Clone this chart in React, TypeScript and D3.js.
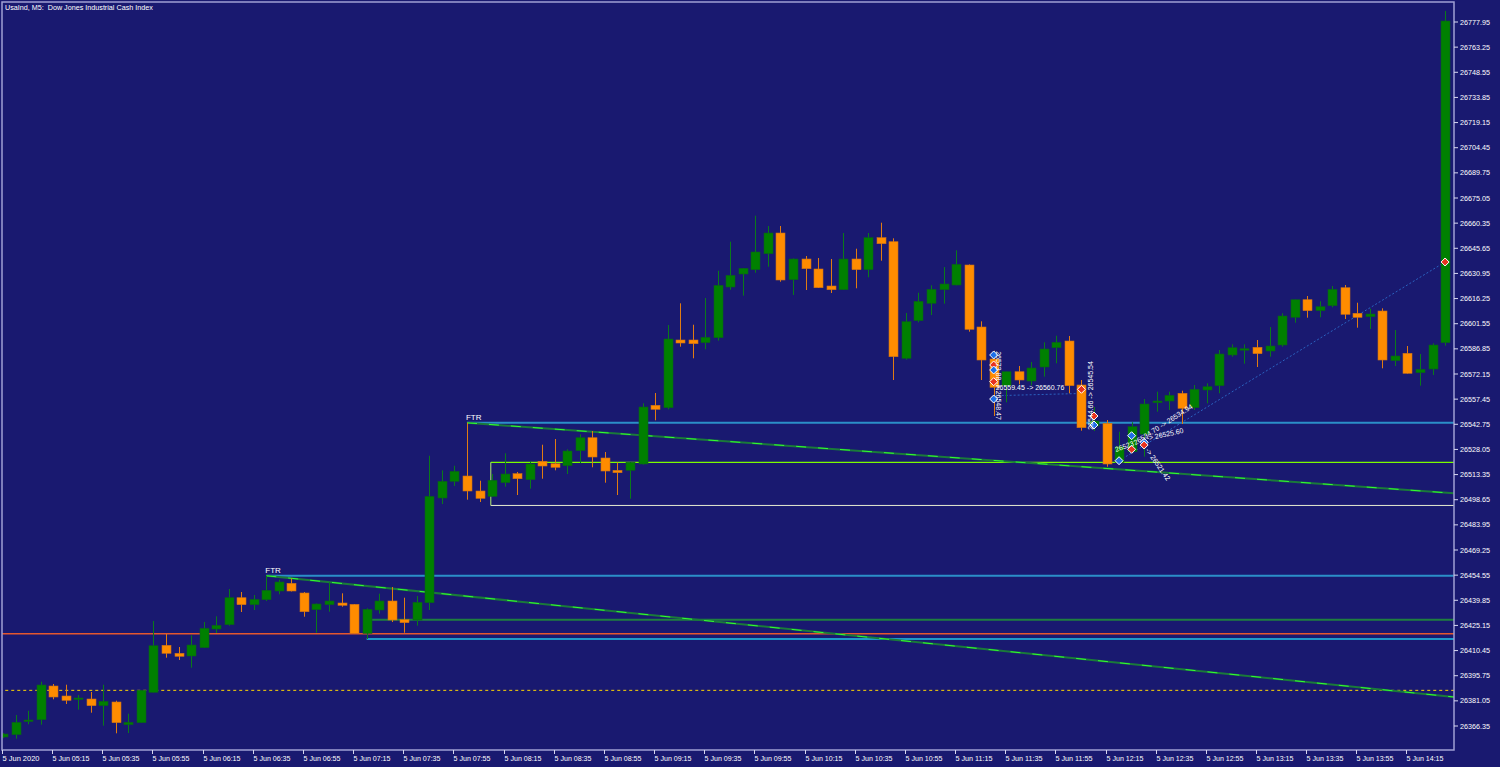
import * as d3 from 'd3';

// M5 bars, 5 Jun 2020 04:55 .. 14:30
const opens = [
  26359.92, 26361.26, 26368.98, 26370.03, 26389.73, 26383.89, 26382.13, 26382.13, 26378.22, 26380.38,
  26367.11, 26368.28, 26386.05, 26413.53, 26408.85, 26407.27, 26412.13, 26423.06, 26425.57, 26441.36,
  26437.27, 26440.19, 26445.28, 26449.78, 26444.11, 26434.34, 26437.27, 26438.26, 26437.5, 26420.55,
  26434.17, 26439.43, 26428.5, 26428.32, 26438.43, 26499.65, 26509.41, 26512.51, 26503.74, 26500.64,
  26508.6, 26513.86, 26510.35, 26521.11, 26519.7, 26518.53, 26527.3, 26534.9, 26523.04, 26515.84,
  26515.84, 26519.53, 26553.85, 26552.44, 26592.03, 26592.03, 26590.45, 26593.37, 26623.01, 26630.61,
  26633.13, 26642.48, 26654.58, 26627.28, 26639.38, 26633.54, 26623.6, 26621.43, 26639.38, 26633.13,
  26651.84, 26649.5, 26581.33, 26603.31, 26613.48, 26621.43, 26624.18, 26635.88, 26599.63, 26580.92,
  26565.31, 26573.49, 26568.05, 26576.24, 26587.52, 26591.44, 26565.72, 26541.74, 26543.32, 26520.52,
  26526.72, 26537.0, 26555.37, 26556.36, 26560.86, 26552.44, 26562.79, 26565.31, 26583.26, 26586.18,
  26587.76, 26585.59, 26589.1, 26605.3, 26615.59, 26609.16, 26612.08, 26622.6, 26607.64, 26605.65,
  26608.98, 26579.92, 26584.25, 26572.91, 26575.07, 26590.45,
];
const highs = [
  26362.25, 26372.78, 26375.29, 26392.25, 26390.9, 26390.49, 26384.47, 26386.23, 26390.49, 26381.14,
  26373.54, 26387.39, 26427.74, 26420.14, 26412.53, 26419.38, 26427.15, 26430.49, 26446.45, 26444.69,
  26442.94, 26454.22, 26451.88, 26452.7, 26444.69, 26437.97, 26450.36, 26443.93, 26437.68, 26435.16,
  26443.7, 26447.61, 26441.36, 26442.35, 26524.38, 26515.84, 26518.53, 26543.67, 26509.76, 26513.68,
  26525.78, 26514.85, 26521.11, 26530.81, 26534.14, 26528.12, 26536.89, 26538.82, 26526.54, 26520.52,
  26520.7, 26555.02, 26561.04, 26600.8, 26613.48, 26600.97, 26616.58, 26632.54, 26649.5, 26634.12,
  26664.7, 26658.68, 26658.68, 26639.7, 26641.14, 26639.97, 26639.38, 26654.58, 26645.4, 26654.58,
  26660.61, 26651.49, 26607.81, 26619.68, 26624.01, 26634.71, 26644.47, 26636.2, 26602.96, 26585.77,
  26573.6, 26576.82, 26579.16, 26590.68, 26594.54, 26594.36, 26568.64, 26552.85, 26545.25, 26538.41,
  26543.91, 26557.53, 26561.8, 26561.8, 26562.38, 26565.72, 26566.71, 26586.18, 26589.51, 26589.51,
  26592.03, 26599.63, 26607.64, 26615.7, 26617.75, 26614.65, 26623.6, 26624.18, 26613.83, 26610.32,
  26610.56, 26597.87, 26588.52, 26583.84, 26590.09, 26784.38,
];
const lows = [
  26359.33, 26358.92, 26367.34, 26367.11, 26381.96, 26379.21, 26375.88, 26374.13, 26366.52, 26362.08,
  26362.25, 26368.2, 26385.93, 26406.28, 26404.93, 26400.43, 26411.95, 26420.72, 26424.99, 26433.0,
  26434.17, 26439.43, 26443.35, 26445.0, 26430.25, 26420.9, 26433.17, 26436.1, 26420.14, 26417.21,
  26432.0, 26427.15, 26420.9, 26424.99, 26434.17, 26496.14, 26506.67, 26498.66, 26497.31, 26500.23,
  26506.26, 26501.4, 26505.09, 26510.93, 26515.84, 26513.68, 26519.94, 26517.6, 26508.6, 26501.4,
  26499.24, 26519.2, 26545.08, 26551.51, 26588.11, 26581.33, 26586.59, 26591.62, 26621.43, 26617.93,
  26631.37, 26634.88, 26626.11, 26618.34, 26621.26, 26622.43, 26619.5, 26621.26, 26622.25, 26628.68,
  26638.39, 26568.64, 26580.51, 26602.37, 26606.64, 26613.25, 26624.0, 26596.88, 26568.64, 26547.59,
  26555.6, 26566.13, 26565.54, 26570.57, 26578.4, 26560.86, 26539.0, 26538.82, 26517.95, 26520.4,
  26525.78, 26523.8, 26550.1, 26551.1, 26542.91, 26551.1, 26555.02, 26560.86, 26582.27, 26578.17,
  26576.24, 26582.27, 26588.11, 26602.14, 26605.06, 26605.3, 26611.15, 26604.3, 26599.22, 26598.46,
  26575.48, 26576.82, 26572.4, 26565.31, 26571.56, 26588.69,
];
const closes = [
  26361.67, 26368.51, 26369.85, 26390.32, 26383.3, 26381.37, 26382.72, 26378.22, 26380.79, 26368.28,
  26368.51, 26387.22, 26413.29, 26408.85, 26407.1, 26413.7, 26423.47, 26425.22, 26441.36, 26437.27,
  26440.42, 26445.69, 26450.54, 26445.28, 26433.17, 26437.68, 26439.43, 26436.92, 26420.55, 26434.58,
  26439.43, 26428.32, 26426.75, 26438.67, 26500.64, 26509.41, 26515.26, 26503.74, 26499.47, 26510.0,
  26513.68, 26510.93, 26519.53, 26518.36, 26517.6, 26527.13, 26534.9, 26523.62, 26515.43, 26514.44,
  26520.52, 26552.85, 26551.51, 26592.61, 26590.27, 26589.86, 26593.6, 26624.01, 26629.85, 26633.95,
  26643.48, 26654.58, 26627.11, 26639.38, 26633.71, 26622.6, 26621.43, 26639.38, 26633.13, 26651.84,
  26648.33, 26582.26, 26602.73, 26614.65, 26621.67, 26624.77, 26636.28, 26598.28, 26580.33, 26564.37,
  26573.49, 26568.64, 26575.66, 26586.76, 26590.68, 26565.31, 26540.75, 26544.67, 26519.53, 26529.64,
  26541.34, 26554.61, 26556.36, 26559.69, 26552.09, 26563.2, 26564.72, 26583.84, 26587.52, 26586.94,
  26584.02, 26588.52, 26606.06, 26615.59, 26609.16, 26611.5, 26621.67, 26607.05, 26605.3, 26607.23,
  26580.33, 26582.67, 26572.56, 26574.89, 26589.1, 26778.53,
];

const priceTicks = [
  26777.95, 26763.25, 26748.55, 26733.85, 26719.15, 26704.45, 26689.75, 26675.05, 26660.35, 26645.65,
  26630.95, 26616.25, 26601.55, 26586.85, 26572.15, 26557.45, 26542.75, 26528.05, 26513.35, 26498.65,
  26483.95, 26469.25, 26454.55, 26439.85, 26425.15, 26410.45, 26395.75, 26381.05, 26366.35,
];

const timeLabels = [
  '5 Jun 2020', '5 Jun 05:15', '5 Jun 05:35', '5 Jun 05:55', '5 Jun 06:15', '5 Jun 06:35', '5 Jun 06:55',
  '5 Jun 07:15', '5 Jun 07:35', '5 Jun 07:55', '5 Jun 08:15', '5 Jun 08:35', '5 Jun 08:55', '5 Jun 09:15',
  '5 Jun 09:35', '5 Jun 09:55', '5 Jun 10:15', '5 Jun 10:35', '5 Jun 10:55', '5 Jun 11:15', '5 Jun 11:35',
  '5 Jun 11:55', '5 Jun 12:15', '5 Jun 12:35', '5 Jun 12:55', '5 Jun 13:15', '5 Jun 13:35', '5 Jun 13:55',
  '5 Jun 14:15',
];
const barsPerLabel = 4;

// horizontal levels: [start bar, price]
const redLevel = [-0.3, 26420.3];
const bidLevel = [-0.3, 26387.2];
const ftrLevels = [
  [21, 26454.2],
  [37, 26543.6],
];
const greenLevel = [29.3, 26428.5];
const cyanLevel = [29, 26417.2];
const boxTop = [38.9, 26520.5];
const boxBottom = [38.9, 26495.3];

// trendlines from each FTR: [bar, price] -> [bar, price]
const trendLines = [
  [[21, 26454.2], [115.7, 26383.3]],
  [[37, 26543.6], [115.7, 26502.4]],
];
const ftrLabels = [
  [21, 26454.2],
  [37, 26543.6],
];

// trade arrows: [bar, price, kind] 0 = buy (blue), 1 = sell (red)
const tradeMarks = [
  [79, 26583.26, 0], [79, 26577.41, 1], [79, 26574.49, 0], [79, 26567.65, 1], [79, 26557.53, 0],
  [86, 26563.2, 1], [87, 26547.59, 1], [87, 26542.33, 0], [89, 26521.46, 0], [90, 26536.07, 0],
  [90, 26528.12, 1], [91, 26532.22, 0], [91, 26530.64, 1], [115, 26637.63, 1],
];
const tradePaths = [
  [[79, 26559.45], [86, 26560.76]],
  [[89, 26521.46], [115, 26637.63]],
];

const W = 1500;
const H = 767;
const plot = { left: 2, top: 2, right: 1454, bottom: 750 };
const font = '"Liberation Sans", Arial, sans-serif';

const x = d3.scaleLinear().domain([0, 115]).range([3, 1445.1]);
const y = d3.scaleLinear().domain([26366.35, 26777.95]).range([726, 22]);

const bull = '#008000';
const bear = '#ff8c00';

function Level({ from, price, color, width = 1.5, dash }: { from: number; price: number; color: string; width?: number; dash?: string }) {
  return (
    <line
      x1={x(from)}
      x2={plot.right}
      y1={y(price)}
      y2={y(price)}
      stroke={color}
      strokeWidth={width}
      strokeDasharray={dash}
    />
  );
}

function Marker({ i, price, kind }: { i: number; price: number; kind: number }) {
  const cx = x(i);
  const cy = y(price);
  const c = kind === 0 ? '#1e6ee8' : '#e8321e';
  return (
    <path
      d={`M${cx},${cy - 4}L${cx + 4},${cy}L${cx},${cy + 4}L${cx - 4},${cy}Z`}
      fill={c}
      stroke="#ffffff"
      strokeWidth={1}
    />
  );
}

export default function App() {
  const line = d3
    .line<number[]>()
    .x((d) => x(d[0]))
    .y((d) => y(d[1]));

  return (
    <svg
      width={W}
      height={H}
      style={{ position: 'absolute', left: 0, top: 0, display: 'block', background: '#191970' }}
    >
      <rect x={0} y={0} width={W} height={H} fill="#191970" />
      <defs>
        <clipPath id="plotClip">
          <rect x={plot.left} y={plot.top} width={plot.right - plot.left} height={plot.bottom - plot.top} />
        </clipPath>
      </defs>

      <g clipPath="url(#plotClip)">
        {/* levels */}
        <Level from={redLevel[0]} price={redLevel[1]} color="#e4572e" />
        <Level from={bidLevel[0]} price={bidLevel[1]} color="#ffd700" width={1} dash="3,3" />
        {ftrLevels.map((l, k) => (
          <Level key={`ftr${k}`} from={l[0]} price={l[1]} color="#2b8fc8" width={2} />
        ))}
        <Level from={greenLevel[0]} price={greenLevel[1]} color="#1f7f3f" width={2} />
        <Level from={cyanLevel[0]} price={cyanLevel[1]} color="#20c4e6" width={1.5} />
        <Level from={boxTop[0]} price={boxTop[1]} color="#7cfc00" width={1.2} />
        <Level from={boxBottom[0]} price={boxBottom[1]} color="#e8ecd0" width={1} />
        <line
          x1={x(boxTop[0])}
          x2={x(boxTop[0])}
          y1={y(boxTop[1])}
          y2={y(boxBottom[1])}
          stroke="#b8f070"
          strokeWidth={1}
        />

        {/* trendlines */}
        {trendLines.map((t, k) => (
          <g key={`tl${k}`}>
            <path d={line(t)!} fill="none" stroke="#1a7a3a" strokeWidth={2} />
            <path d={line(t)!} fill="none" stroke="#33ff33" strokeWidth={1} strokeDasharray="10,12" />
          </g>
        ))}

        {/* trade paths */}
        {tradePaths.map((t, k) => (
          <path key={`tp${k}`} d={line(t)!} fill="none" stroke="#2a62c0" strokeWidth={1} strokeDasharray="2,2" />
        ))}

        {/* candles */}
        {opens.map((o, i) => {
          const c = closes[i];
          const up = c >= o;
          const cx = Math.round(x(i)) + 0.5;
          const top = y(Math.max(o, c));
          const bot = y(Math.min(o, c));
          return (
            <g key={i}>
              <line
                x1={cx}
                x2={cx}
                y1={y(highs[i])}
                y2={y(lows[i])}
                stroke={up ? '#0a7a1a' : '#e07b12'}
                strokeWidth={1}
              />
              <rect
                x={cx - 4.5}
                y={top}
                width={9}
                height={Math.max(bot - top, 1.5)}
                fill={up ? bull : bear}
                stroke={up ? '#0b5e1e' : '#c8701a'}
                strokeWidth={0.6}
              />
            </g>
          );
        })}

        {/* trade markers */}
        {tradeMarks.map((m, k) => (
          <Marker key={`m${k}`} i={m[0]} price={m[1]} kind={m[2]} />
        ))}

        {/* FTR labels */}
        {ftrLabels.map((f, k) => (
          <text
            key={`f${k}`}
            x={x(f[0]) - 1}
            y={y(f[1]) - 3}
            fill="#ffffff"
            fontFamily={font}
            fontSize={8}
          >
            FTR
          </text>
        ))}

        {/* trade texts */}
        <g fill="#ffffff" fontFamily={font} fontSize={7}>
          <text x={x(79) + 2} y={y(26559.45) - 6}>26559.45 -&gt; 26560.76</text>
          <text transform={`translate(${x(79) + 2},${y(26585.5)}) rotate(90)`}>26573.88 -&gt; 26548.47</text>
          <text transform={`translate(${x(87) - 1},${y(26539.5)}) rotate(-90)`}>26544.66 -&gt; 26545.54</text>
          <text transform={`translate(${x(90) + 4},${y(26530.5)}) rotate(-33)`}>26534.70 -&gt; 26534.94</text>
          <text transform={`translate(${x(91) + 3},${y(26533.2)}) rotate(-12)`}>-&gt; 26525.60</text>
          <text transform={`translate(${x(91) + 1},${y(26527.5)}) rotate(55)`}>-&gt; 26521.42</text>
          <text transform={`translate(${x(89) - 3},${y(26526.5)}) rotate(-20)`}>26523</text>
        </g>
      </g>

      {/* frame */}
      <rect
        x={plot.left}
        y={plot.top}
        width={plot.right - plot.left}
        height={plot.bottom - plot.top}
        fill="none"
        stroke="#a0a0d4"
        strokeWidth={1.5}
      />

      {/* title */}
      <text x={5} y={10} fill="#ffffff" fontFamily={font} fontSize={7.2} style={{ whiteSpace: 'pre' }}>
        {'UsaInd, M5:  Dow Jones Industrial Cash Index'}
      </text>

      {/* price axis */}
      {priceTicks.map((p) => (
        <g key={p} transform={`translate(${plot.right},${y(p)})`}>
          <line x1={0} x2={4} y1={0} y2={0} stroke="#d8d8f0" strokeWidth={1} />
          <text x={6} y={2.6} fill="#ffffff" fontFamily={font} fontSize={7.2}>
            {p.toFixed(2)}
          </text>
        </g>
      ))}

      {/* time axis */}
      {timeLabels.map((t, k) => {
        const tx = Math.round(x(k * barsPerLabel)) - 0.5;
        return (
          <g key={t} transform={`translate(${tx},${plot.bottom})`}>
            <line x1={0} x2={0} y1={0} y2={4} stroke="#d8d8f0" strokeWidth={1} />
            <text x={0} y={11} fill="#ffffff" fontFamily={font} fontSize={7.2} textLength={37} lengthAdjust="spacingAndGlyphs">
              {t}
            </text>
          </g>
        );
      })}
    </svg>
  );
}
